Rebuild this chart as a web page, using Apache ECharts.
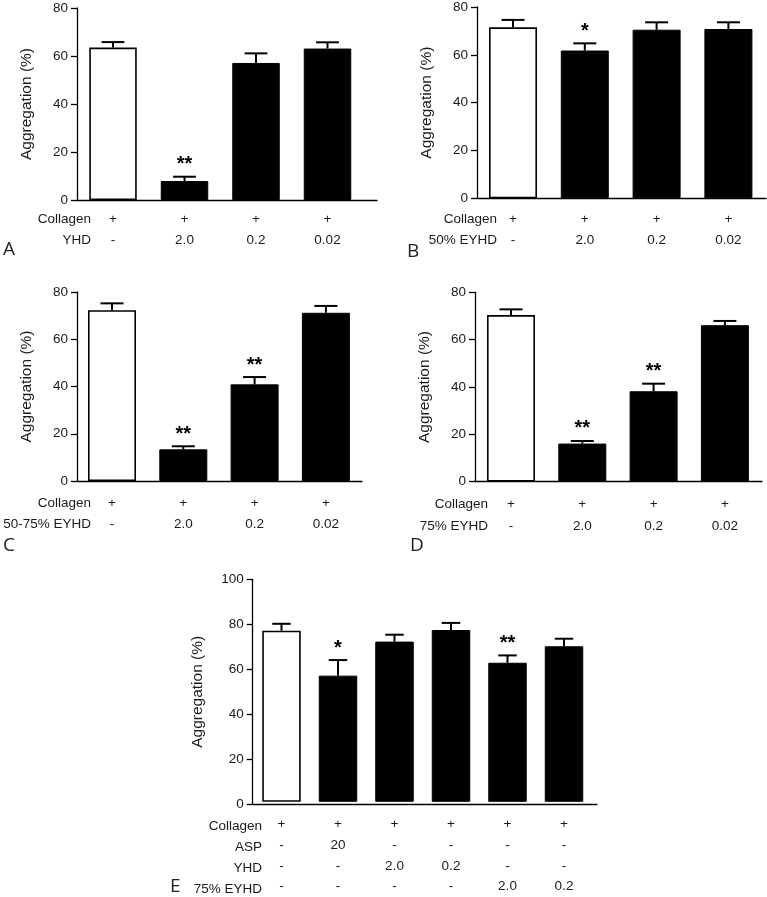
<!DOCTYPE html>
<html>
<head>
<meta charset="utf-8">
<script src="https://cdn.jsdelivr.net/npm/echarts@6/dist/echarts.min.js"></script>
<style>html,body{margin:0;padding:0;background:#fff}#c{width:767px;height:897px}</style>
</head>
<body>
<div id="c"></div>
<script>
// ---------- DATA ----------
const yAxisTitle = 'Aggregation (%)';

const aHeaders = ['Collagen', 'YHD'];
const aRows = [['+', '+', '+', '+'], ['-', '2.0', '0.2', '0.02']];
const aMeans = [63.5, 7.9, 57.1, 63.1];
const aSem = [2.3, 1.8, 4.0, 2.6];
const aSig = ['', '**', '', ''];

const bHeaders = ['Collagen', '50% EYHD'];
const bRows = [['+', '+', '+', '+'], ['-', '2.0', '0.2', '0.02']];
const bMeans = [71.5, 61.8, 70.5, 70.8];
const bSem = [3.1, 3.0, 3.1, 2.8];
const bSig = ['', '*', '', ''];

const cHeaders = ['Collagen', '50-75% EYHD'];
const cRows = [['+', '+', '+', '+'], ['-', '2.0', '0.2', '0.02']];
const cMeans = [72.3, 13.4, 40.9, 71.2];
const cSem = [2.9, 1.3, 3.1, 2.9];
const cSig = ['', '**', '**', ''];

const dHeaders = ['Collagen', '75% EYHD'];
const dRows = [['+', '+', '+', '+'], ['-', '2.0', '0.2', '0.02']];
const dMeans = [70.4, 16.1, 38.2, 66.1];
const dSem = [2.4, 1.1, 3.2, 1.8];
const dSig = ['', '**', '**', ''];

const eHeaders = ['Collagen', 'ASP', 'YHD', '75% EYHD'];
const eRows = [
  ['+', '+', '+', '+', '+', '+'],
  ['-', '20', '-', '-', '-', '-'],
  ['-', '-', '2.0', '0.2', '-', '-'],
  ['-', '-', '-', '-', '2.0', '0.2']
];
const eMeans = [76.9, 56.7, 72.0, 77.2, 62.5, 69.9];
const eSem = [3.1, 7.0, 3.1, 3.2, 3.3, 3.4];
const eSig = ['', '*', '', '', '**', ''];

const yMaxAD = 80;
const yMaxE = 100;
const yInterval = 20;

// ---------- LAYOUT (pixels / styles) ----------
const FONT = '"Liberation Sans", Arial, sans-serif';
const TXT = '#1a1a1a';
const panels = [
  {letter:'A', headers:aHeaders, rows:aRows, means:aMeans, sem:aSem, sig:aSig, max:yMaxAD,
   L:{axisX:77, axisEnd:377, top:8, bottom:200, firstCenter:113, spacing:71.5, barW:47.5, margin:8.5, lh:21, headerRight:91, nameGap:42, lx:3, ly:250}},
  {letter:'B', headers:bHeaders, rows:bRows, means:bMeans, sem:bSem, sig:bSig, max:yMaxAD,
   L:{axisX:477, axisEnd:766, top:7, bottom:198.3, firstCenter:513, spacing:71.8, barW:48, margin:10.5, lh:21, headerRight:497, nameGap:42, lx:407, ly:252}},
  {letter:'C', headers:cHeaders, rows:cRows, means:cMeans, sem:cSem, sig:cSig, max:yMaxAD,
   L:{axisX:77, axisEnd:362, top:292, bottom:481, firstCenter:112, spacing:71.3, barW:48, margin:11.5, lh:21.5, headerRight:91, nameGap:42, lx:3, ly:546}},
  {letter:'D', headers:dHeaders, rows:dRows, means:dMeans, sem:dSem, sig:dSig, max:yMaxAD,
   L:{axisX:475, axisEnd:762, top:292.3, bottom:481.7, firstCenter:511, spacing:71.3, barW:48, margin:11, lh:22.5, headerRight:488, nameGap:42, lx:410, ly:546}},
  {letter:'E', headers:eHeaders, rows:eRows, means:eMeans, sem:eSem, sig:eSig, max:yMaxE,
   L:{axisX:252.7, axisEnd:597, top:579.3, bottom:804.3, firstCenter:281.5, spacing:56.5, barW:38.5, margin:12, lh:20.8, headerRight:262, nameGap:47, lx:170, ly:887}}
];

const grid = [], xAxis = [], yAxis = [], series = [], graphic = [];
panels.forEach((p, k) => {
  const L = p.L, n = p.means.length;
  const gf = grid.length;
  grid.push({left: L.axisX, top: L.top, width: L.axisEnd - L.axisX, height: L.bottom - L.top});
  const gb = grid.length;
  grid.push({left: L.firstCenter - L.spacing / 2, top: L.top, width: L.spacing * n, height: L.bottom - L.top});

  // frame axes
  xAxis.push({gridIndex: gf, type: 'value', min: 0, max: 1,
    axisLine: {show: true, onZero: false, lineStyle: {color: '#000', width: 1.3}},
    axisTick: {show: false}, axisLabel: {show: false}, splitLine: {show: false}});
  yAxis.push({gridIndex: gf, type: 'value', min: 0, max: p.max, interval: yInterval,
    axisLine: {show: true, onZero: false, lineStyle: {color: '#000', width: 1.3}},
    axisTick: {show: true, length: 6, lineStyle: {color: '#000', width: 1.3}},
    axisLabel: {fontSize: 13.5, fontFamily: FONT, color: TXT, margin: 9},
    splitLine: {show: false},
    name: yAxisTitle, nameLocation: 'middle', nameGap: L.nameGap,
    nameTextStyle: {fontSize: 15.5, fontFamily: FONT, color: TXT}});
  // bar axes
  const cats = p.means.map((_, i) => 'c' + i);
  const rows = p.rows;
  xAxis.push({gridIndex: gb, type: 'category', data: cats,
    axisLine: {show: false}, axisTick: {show: false}, splitLine: {show: false},
    axisLabel: {interval: 0, margin: L.margin, lineHeight: L.lh, fontSize: 13.5, fontFamily: FONT, color: TXT,
      formatter: (v, i) => rows.map(r => r[i]).join('\n')}});
  yAxis.push({gridIndex: gb, type: 'value', min: 0, max: p.max, show: false});

  series.push({type: 'bar', xAxisIndex: xAxis.length - 1, yAxisIndex: yAxis.length - 1,
    barWidth: L.barW, silent: true,
    data: p.means.map((v, i) => ({value: v, itemStyle: i === 0
      ? {color: '#fff', borderColor: '#000', borderWidth: 1.6}
      : {color: '#000', borderColor: '#000', borderWidth: 1}}))});
  const sig = p.sig;
  const capW = L.barW * 0.48;
  series.push({type: 'custom', xAxisIndex: xAxis.length - 1, yAxisIndex: yAxis.length - 1, silent: true,
    data: p.means.map((v, i) => [i, v, p.sem[i]]),
    renderItem: (params, api) => {
      const i = api.value(0), m = api.value(1), e = api.value(2);
      const p0 = api.coord([i, m]);
      const p1 = api.coord([i, m + e]);
      const ch = [
        {type: 'line', shape: {x1: p0[0], y1: p0[1], x2: p1[0], y2: p1[1]}, style: {stroke: '#000', lineWidth: 2}},
        {type: 'line', shape: {x1: p1[0] - capW / 2, y1: p1[1], x2: p1[0] + capW / 2, y2: p1[1]}, style: {stroke: '#000', lineWidth: 2}}
      ];
      if (sig[i]) ch.push({type: 'text', style: {text: sig[i], x: p1[0], y: p1[1] - 12,
        align: 'center', verticalAlign: 'middle', font: 'bold 20px ' + FONT, fill: '#000'}});
      return {type: 'group', children: ch};
    }});

  // row headers
  p.headers.forEach((h, r) => {
    graphic.push({type: 'text', x: L.headerRight, y: L.bottom + L.margin + L.lh * (r + 0.5),
      style: {text: h, align: 'right', verticalAlign: 'middle', font: '13.5px ' + FONT, fill: TXT}});
  });
  graphic.push({type: 'text', x: L.lx, y: L.ly,
    style: {text: p.letter, align: 'left', verticalAlign: 'middle', font: '19px "Open Sans", "Noto Sans", sans-serif', fill: '#222'}});
});

const chart = echarts.init(document.getElementById('c'), null, {renderer: 'canvas'});
chart.setOption({animation: false, backgroundColor: '#fff', grid, xAxis, yAxis, series, graphic});
</script>
</body>
</html>
